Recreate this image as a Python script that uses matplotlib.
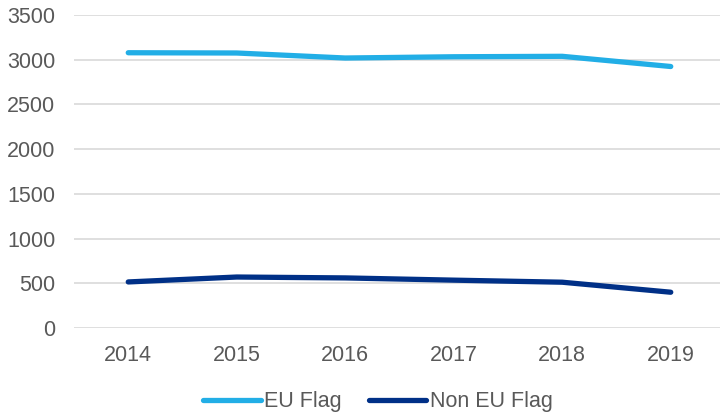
import matplotlib
matplotlib.use("Agg")
from matplotlib import pyplot as plt

# values
years = ["2014", "2015", "2016", "2017", "2018", "2019"]
eu_flag = [3078, 3075, 3019, 3033, 3038, 2924]
non_eu_flag = [515, 570, 560, 535, 512, 400]

plt.rcParams["font.family"] = ["Liberation Sans", "DejaVu Sans"]
text_color = "#595959"
fs = 15.5

fig = plt.figure(figsize=(7.2, 4.17), dpi=100)
ax = fig.add_axes([74 / 720, 1 - 328 / 417, (725 - 74) / 720, (328 - 15) / 417])

x = range(len(years))
ax.plot(x, eu_flag, color="#22AEE6", lw=3.8, solid_capstyle="round", label="EU Flag")
ax.plot(x, non_eu_flag, color="#003087", lw=3.8, solid_capstyle="round", label="Non EU Flag")

ax.set_xlim(-0.5, 5.5)
ax.set_ylim(0, 3500)
ax.set_yticks(range(0, 3501, 500))
ax.set_xticks(list(x))
ax.set_xticklabels(years)

ax.grid(axis="y", color="#D9D9D9", lw=1.2)
ax.set_axisbelow(True)
for s in ax.spines.values():
    s.set_visible(False)
ax.tick_params(length=0, labelsize=fs, labelcolor=text_color)
ax.tick_params(axis="y", pad=13.5)
ax.tick_params(axis="x", pad=12)

fig.legend(loc="center", bbox_to_anchor=(378 / 720, 1 - 402 / 417), ncol=2, frameon=False,
           fontsize=fs, labelcolor=text_color, handlelength=2.65, handletextpad=0.15,
           columnspacing=1.3)

plt.savefig("out.png", dpi=100)
